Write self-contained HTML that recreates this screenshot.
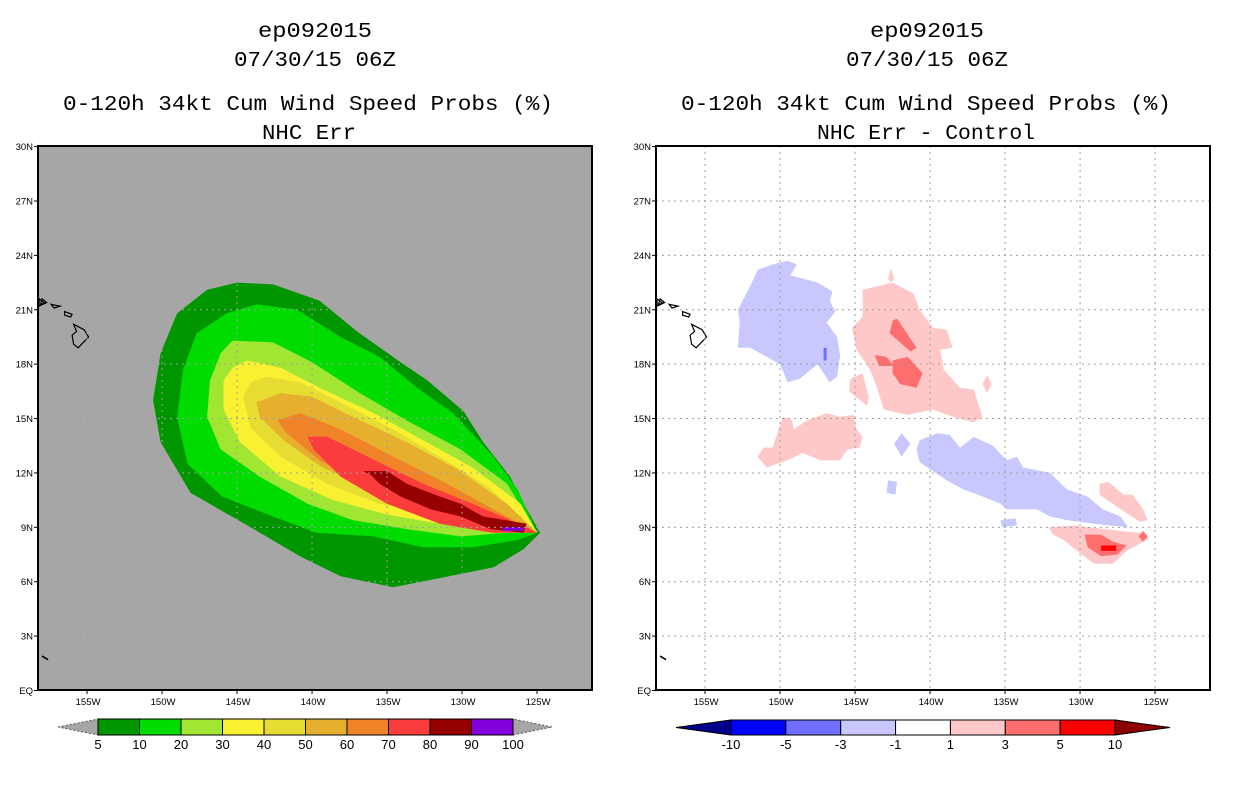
<!DOCTYPE html>
<html><head><meta charset="utf-8"><style>
html,body{margin:0;padding:0;background:#fff;}
svg{display:block;font-family:"Liberation Sans",sans-serif;}
</style></head><body>
<svg id="fig" width="1236" height="800" viewBox="0 0 1236 800" xmlns="http://www.w3.org/2000/svg">
<rect width="1236" height="800" fill="#fff"/>
<g font-family="Liberation Mono, monospace" font-size="21" text-anchor="middle" fill="#000">
<text x="315" y="37" textLength="114" lengthAdjust="spacingAndGlyphs">ep092015</text>
<text x="315" y="66" textLength="162" lengthAdjust="spacingAndGlyphs">07/30/15 06Z</text>
<text x="308" y="110" textLength="490" lengthAdjust="spacingAndGlyphs">0-120h 34kt Cum Wind Speed Probs (%)</text>
<text x="309" y="139" textLength="94" lengthAdjust="spacingAndGlyphs">NHC Err</text>
</g>
<g font-family="Liberation Mono, monospace" font-size="21" text-anchor="middle" fill="#000">
<text x="927" y="37" textLength="114" lengthAdjust="spacingAndGlyphs">ep092015</text>
<text x="927" y="66" textLength="162" lengthAdjust="spacingAndGlyphs">07/30/15 06Z</text>
<text x="926" y="110" textLength="490" lengthAdjust="spacingAndGlyphs">0-120h 34kt Cum Wind Speed Probs (%)</text>
<text x="926" y="139" textLength="218" lengthAdjust="spacingAndGlyphs">NHC Err - Control</text>
</g>
<g id="left"></g>
<g id="right"></g>
<g id="cbars"></g>
</svg>
<script>
// ---- data ----
const latTicks = [0,3,6,9,12,15,18,21,24,27,30];
const latLabels = ["EQ","3N","6N","9N","12N","15N","18N","21N","24N","27N","30N"];
const lonTicks = [-155,-150,-145,-140,-135,-130,-125];
const lonLabels = ["155W","150W","145W","140W","135W","130W","125W"];
const leftLevels = ["5","10","20","30","40","50","60","70","80","90","100"];
const leftColors = ["#009600","#00dc00","#a0e632","#faf032","#e6dc32","#e6af2d","#f08228","#fa3c3c","#960000","#8200dc"];
const rightLevels = ["-10","-5","-3","-1","1","3","5","10"];
const rightColors = ["#0000ff","#6e6eff","#c8c8ff","#ffffff","#ffc8c8","#ff6e6e","#ff0000"];
const c5 = [[-145.0,22.5],[-142.6,22.4],[-139.5,21.5],[-137.0,19.8],[-134.1,18.1],[-132.3,17.1],[-129.9,15.4],[-128.6,13.7],[-126.8,11.8],[-125.9,10.3],[-124.8,8.7],[-125.9,7.8],[-127.9,6.8],[-131.5,6.2],[-134.6,5.7],[-138.1,6.3],[-140.8,7.4],[-144.1,9.0],[-148.1,10.9],[-150.1,13.7],[-150.6,16.0],[-150.1,18.6],[-149.0,20.8],[-147.0,22.1]];
const c10 = [[-143.7,21.3],[-141.0,21.0],[-138.1,19.5],[-135.5,18.4],[-133.0,16.7],[-130.6,15.3],[-127.9,12.9],[-126.3,11.1],[-125.0,8.7],[-126.3,8.3],[-129.3,7.9],[-132.6,7.9],[-135.9,8.5],[-139.7,8.7],[-142.6,9.6],[-146.0,10.7],[-148.3,12.5],[-149.0,15.1],[-148.6,17.7],[-147.7,19.7],[-145.7,20.8]];
const c20 = [[-145.3,19.3],[-142.6,19.2],[-140.0,18.1],[-136.8,16.4],[-133.7,14.9],[-130.1,13.3],[-127.0,11.4],[-125.0,8.7],[-127.0,8.7],[-130.1,8.5],[-133.7,8.9],[-137.3,9.4],[-140.3,10.3],[-143.5,11.8],[-146.1,13.3],[-147.0,15.1],[-146.8,17.1],[-146.1,18.6]];
const c30 = [[-144.3,18.2],[-142.1,17.8],[-139.5,16.7],[-135.9,15.3],[-132.6,13.8],[-129.3,12.3],[-126.1,10.3],[-125.0,8.7],[-127.5,9.0],[-131.5,9.2],[-135.0,9.7],[-138.6,10.5],[-142.1,11.8],[-144.8,13.7],[-145.9,15.5],[-145.9,17.1],[-145.3,17.8]];
const c40 = [[-143.0,17.3],[-140.8,17.0],[-138.1,15.9],[-134.6,14.4],[-131.5,12.9],[-128.2,11.2],[-125.0,8.7],[-128.2,9.4],[-131.9,9.8],[-135.5,10.3],[-139.0,11.4],[-142.1,12.9],[-144.1,14.5],[-144.6,16.2],[-144.1,17.0]];
const c50 = [[-142.1,16.4],[-140.0,16.2],[-137.3,15.1],[-133.7,13.7],[-130.3,12.2],[-127.0,10.3],[-125.0,8.7],[-128.6,9.6],[-132.3,10.3],[-135.9,11.1],[-139.3,12.3],[-141.9,13.8],[-143.5,15.1],[-143.7,15.9]];
const c60 = [[-142.3,14.9],[-140.8,15.3],[-138.1,14.4],[-134.6,12.9],[-131.0,11.4],[-127.5,9.8],[-125.0,8.7],[-128.6,9.2],[-132.3,10.0],[-136.3,11.2],[-139.5,12.7],[-141.7,14.2]];
const c70 = [[-140.3,14.0],[-139.0,14.0],[-136.3,12.9],[-132.6,11.4],[-129.3,10.3],[-125.7,9.0],[-125.0,8.7],[-128.0,8.7],[-131.5,9.2],[-135.0,10.3],[-138.1,11.8],[-139.9,13.3]];
const c80 = [[-136.6,12.1],[-135.0,12.1],[-133.7,11.4],[-131.5,10.7],[-130.1,10.3],[-128.6,9.6],[-125.7,9.2],[-125.9,8.7],[-128.1,8.9],[-130.1,9.6],[-132.1,10.0],[-134.1,10.7],[-135.5,11.4],[-136.1,11.9]];
const c90 = [[-127.3,9.0],[-125.9,9.0],[-125.9,8.8],[-127.3,8.8]];
const leftContours = [c5,c10,c20,c30,c40,c50,c60,c70,c80,c90];

const dBlueNW = [[-149.5,23.7],[-148.9,23.5],[-149.3,22.9],[-147.5,22.5],[-146.5,22.0],[-146.7,21.5],[-146.3,20.9],[-146.9,20.3],[-146.2,19.5],[-146.0,18.5],[-146.2,17.3],[-146.7,17.0],[-147.5,18.0],[-148.7,17.2],[-149.5,17.0],[-150.0,18.0],[-151.1,18.5],[-152.0,18.9],[-152.8,18.9],[-152.7,20.3],[-152.8,21.0],[-152.5,21.5],[-152.0,22.3],[-151.5,23.2],[-150.5,23.5]];
const dBlueSE = [[-140.7,13.8],[-139.5,14.2],[-138.7,14.1],[-138.0,13.4],[-137.1,14.0],[-135.8,13.5],[-134.9,12.7],[-134.2,12.9],[-133.8,12.3],[-132.0,12.0],[-130.9,11.1],[-129.5,10.7],[-128.5,10.0],[-127.3,9.6],[-126.8,9.0],[-129.1,9.2],[-130.9,9.4],[-132.0,9.6],[-132.9,10.0],[-134.9,10.0],[-135.3,10.3],[-136.5,10.7],[-137.8,11.1],[-138.9,11.6],[-139.8,12.1],[-140.7,12.6],[-140.9,13.3]];
const dBlueSmall1 = [[-141.9,14.2],[-141.3,13.6],[-141.9,12.9],[-142.4,13.6]];
const dBlueSmall2 = [[-142.8,11.6],[-142.2,11.5],[-142.3,10.8],[-142.9,10.9]];
const dBlueSmall3 = [[-135.3,9.4],[-134.3,9.5],[-134.2,9.1],[-135.2,9.0]];
const dBlueSmall4 = [[-139.5,16.4],[-139.1,16.0],[-139.5,15.6],[-139.9,16.0]];
const dPinkC = [[-144.5,22.1],[-142.5,22.5],[-141.1,21.9],[-140.7,21.0],[-139.8,20.0],[-138.9,19.9],[-138.5,18.9],[-139.3,18.8],[-139.1,17.7],[-138.0,16.7],[-137.1,16.6],[-136.5,15.1],[-137.1,14.8],[-138.5,15.1],[-139.8,15.5],[-141.5,15.2],[-143.1,15.5],[-143.5,16.6],[-144.0,17.7],[-144.9,18.8],[-145.2,20.0],[-144.5,20.6],[-144.5,21.5]];
const dPinkSmall1 = [[-145.3,17.2],[-144.5,17.5],[-144.1,16.2],[-144.2,15.7],[-145.4,16.5]];
const dPinkSW = [[-149.8,15.1],[-149.2,14.9],[-149.1,14.4],[-148.2,14.9],[-146.9,15.3],[-146.0,15.1],[-145.1,15.2],[-144.9,14.4],[-144.5,14.0],[-144.7,13.4],[-145.5,13.3],[-146.0,12.7],[-147.3,12.7],[-148.5,13.1],[-149.5,12.7],[-150.9,12.3],[-151.5,12.9],[-151.1,13.4],[-150.5,13.4],[-150.1,14.4]];
const dPinkStreak = [[-128.7,11.4],[-128.1,11.5],[-127.1,10.8],[-126.5,10.8],[-125.8,10.0],[-125.5,9.4],[-126.0,9.3],[-127.3,10.0],[-128.7,10.8]];
const dPinkOval = [[-132.1,9.0],[-130.4,9.1],[-127.3,8.8],[-126.0,8.7],[-125.4,8.4],[-126.0,8.1],[-126.9,7.7],[-127.8,7.0],[-129.1,7.0],[-130.2,7.7],[-131.1,8.3],[-131.8,8.6]];
const dPinkSmall2 = [[-138.0,16.3],[-137.7,15.8],[-138.0,15.4],[-138.3,15.8]];
const dPinkSmall3 = [[-136.2,17.4],[-135.9,16.9],[-136.2,16.4],[-136.5,16.9]];
const dPinkSmall4 = [[-142.6,23.3],[-142.4,22.7],[-142.6,22.5],[-142.8,22.7]];
const dRed1 = [[-142.5,20.4],[-142.2,20.5],[-140.9,18.9],[-141.3,18.7],[-142.7,19.7]];
const dRed2 = [[-142.5,18.2],[-141.5,18.4],[-140.5,17.5],[-140.9,16.7],[-142.0,16.9],[-142.5,17.5]];
const dRed3 = [[-143.7,18.5],[-142.9,18.4],[-142.4,17.9],[-143.4,17.9]];
const dRed4 = [[-129.7,8.6],[-128.6,8.6],[-127.8,8.2],[-126.9,8.0],[-127.5,7.5],[-128.6,7.4],[-129.5,7.9]];
const dBright = [[-128.6,8.0],[-127.6,8.0],[-127.6,7.7],[-128.6,7.7]];
const dDiamond = [[-125.8,8.8],[-125.5,8.5],[-125.8,8.2],[-126.1,8.5]];
const dBlueDark = [[-147.1,18.9],[-146.9,18.9],[-146.9,18.2],[-147.1,18.2]];
const rightShapes = [
 [dBlueNW,2],[dBlueSE,2],[dBlueSmall1,2],[dBlueSmall2,2],[dBlueSmall3,2],[dBlueSmall4,2],[dBlueDark,1],
 [dPinkC,4],[dPinkSmall1,4],[dPinkSW,4],[dPinkStreak,4],[dPinkOval,4],[dPinkSmall2,4],[dPinkSmall3,4],[dPinkSmall4,4],
 [dRed1,5],[dRed2,5],[dRed3,5],[dRed4,5],[dBright,6],[dDiamond,5]
];
// ---- geometry ----
const NS="http://www.w3.org/2000/svg";
const LON0=-158.27, PXD=15, Y0=690.5, PYD=18.13, TOP=146, BOT=690;
function X(lon,x0){return x0+(lon-LON0)*PXD;}
function Y(lat){return Y0-lat*PYD;}
function mk(tag,attrs,parent){const e=document.createElementNS(NS,tag);for(const k in attrs)e.setAttribute(k,attrs[k]);parent.appendChild(e);return e;}
function pts(poly,x0){return poly.map(p=>X(p[0],x0).toFixed(1)+","+Y(p[1]).toFixed(1)).join(" ");}

function panel(g,x0,bg,drawFn){
  const w=554;
  mk('rect',{x:x0,y:TOP,width:w,height:BOT-TOP,fill:bg},g);
  drawFn();
  const big=[[-155.9,20.2],[-155.2,19.9],[-154.9,19.5],[-155.6,18.9],[-155.9,19.1],[-156.0,19.6],[-155.7,19.8]];
  const maui=[[-156.5,20.9],[-156.0,20.75],[-156.1,20.6],[-156.5,20.7]];
  const mol=[[-157.4,21.3],[-156.8,21.2],[-157.2,21.1]];
  const oahu=[[-158.0,21.6],[-157.7,21.4],[-158.1,21.3]];
  const kauai=[[-158.2,21.6],[-157.8,21.35],[-158.2,21.2]];
  for(const s of [big,maui,mol,oahu,kauai]){
    const p=mk('polygon',{points:pts(s,x0),fill:'none',stroke:'#000','stroke-width':1.2},g);
    
    
  }
  mk('polyline',{points:X(-158.0,x0)+","+Y(1.9)+" "+X(-157.6,x0)+","+Y(1.7),fill:'none',stroke:'#000','stroke-width':1.5},g);
  const grid=mk('g',{stroke:'#a0a0a0','stroke-width':1,'stroke-dasharray':'2,4'},g);
  
  
  lonTicks.forEach(l=>mk('line',{x1:X(l,x0),x2:X(l,x0),y1:TOP,y2:BOT},grid));
  latTicks.slice(1,-1).forEach(l=>mk('line',{x1:x0,x2:x0+w,y1:Y(l),y2:Y(l)},grid));
  const fr=mk('rect',{x:x0,y:TOP,width:w,height:BOT-TOP,fill:'none',stroke:'#000','stroke-width':2},g);
  
  
  latTicks.forEach((l,i)=>{
    mk('line',{x1:x0-4,x2:x0,y1:Y(l),y2:Y(l),stroke:'#000'},g);
    const t=mk('text',{x:x0-5,y:Y(l)+3.5,'font-size':9.5,'text-anchor':'end'},g);
    t.textContent=latLabels[i];
    
    
  });
  lonTicks.forEach((l,i)=>{
    mk('line',{x1:X(l,x0),x2:X(l,x0),y1:BOT,y2:BOT+4,stroke:'#000'},g);
    const t=mk('text',{x:X(l,x0)+1,y:BOT+15,'font-size':9.5,'text-anchor':'middle'},g);
    t.textContent=lonLabels[i];
    
    
  });
}
const L=document.getElementById('left'), R=document.getElementById('right');
panel(L,38,'#a6a6a6',()=>{
  leftContours.forEach((c,i)=>{
    const p=mk('polygon',{points:pts(c,38),fill:leftColors[i]},L);
    
    
  });
});
panel(R,656,'#ffffff',()=>{
  rightShapes.forEach(s=>{
    const p=mk('polygon',{points:pts(s[0],656),fill:rightColors[s[1]]},R);
    
    
  });
});
const CB=document.getElementById('cbars');
function cbar(x0,x1,y0,y1,tl,tr,colors,levels,lc,rc,dashEnds){
  const n=colors.length, bw=(x1-x0)/n, ym=(y0+y1)/2;
  const a=mk('polygon',{points:`${tl},${ym} ${x0},${y0} ${x0},${y1}`,fill:lc,stroke:dashEnds?'#555':'#000','stroke-width':1,'stroke-dasharray':dashEnds?'2,2':'none'},CB);
  
  
  const b=mk('polygon',{points:`${tr},${ym} ${x1},${y0} ${x1},${y1}`,fill:rc,stroke:dashEnds?'#555':'#000','stroke-width':1,'stroke-dasharray':dashEnds?'2,2':'none'},CB);
  
  
  colors.forEach((c,i)=>{
    const r=mk('rect',{x:x0+i*bw,y:y0,width:bw,height:y1-y0,fill:c,stroke:'#000','stroke-width':1},CB);
    
    
  });
  levels.forEach((lv,i)=>{
    const t=mk('text',{x:x0+i*bw,y:y1+14,'font-size':13,'text-anchor':'middle'},CB);
    t.textContent=lv;
    
    
  });
}
cbar(98,513,719,735,58,552,leftColors,leftLevels,'#a6a6a6','#a6a6a6',true);
cbar(731,1115,720,735,676,1170,rightColors,rightLevels,'#00008c','#8c0000',false);
</script>
</body></html>
